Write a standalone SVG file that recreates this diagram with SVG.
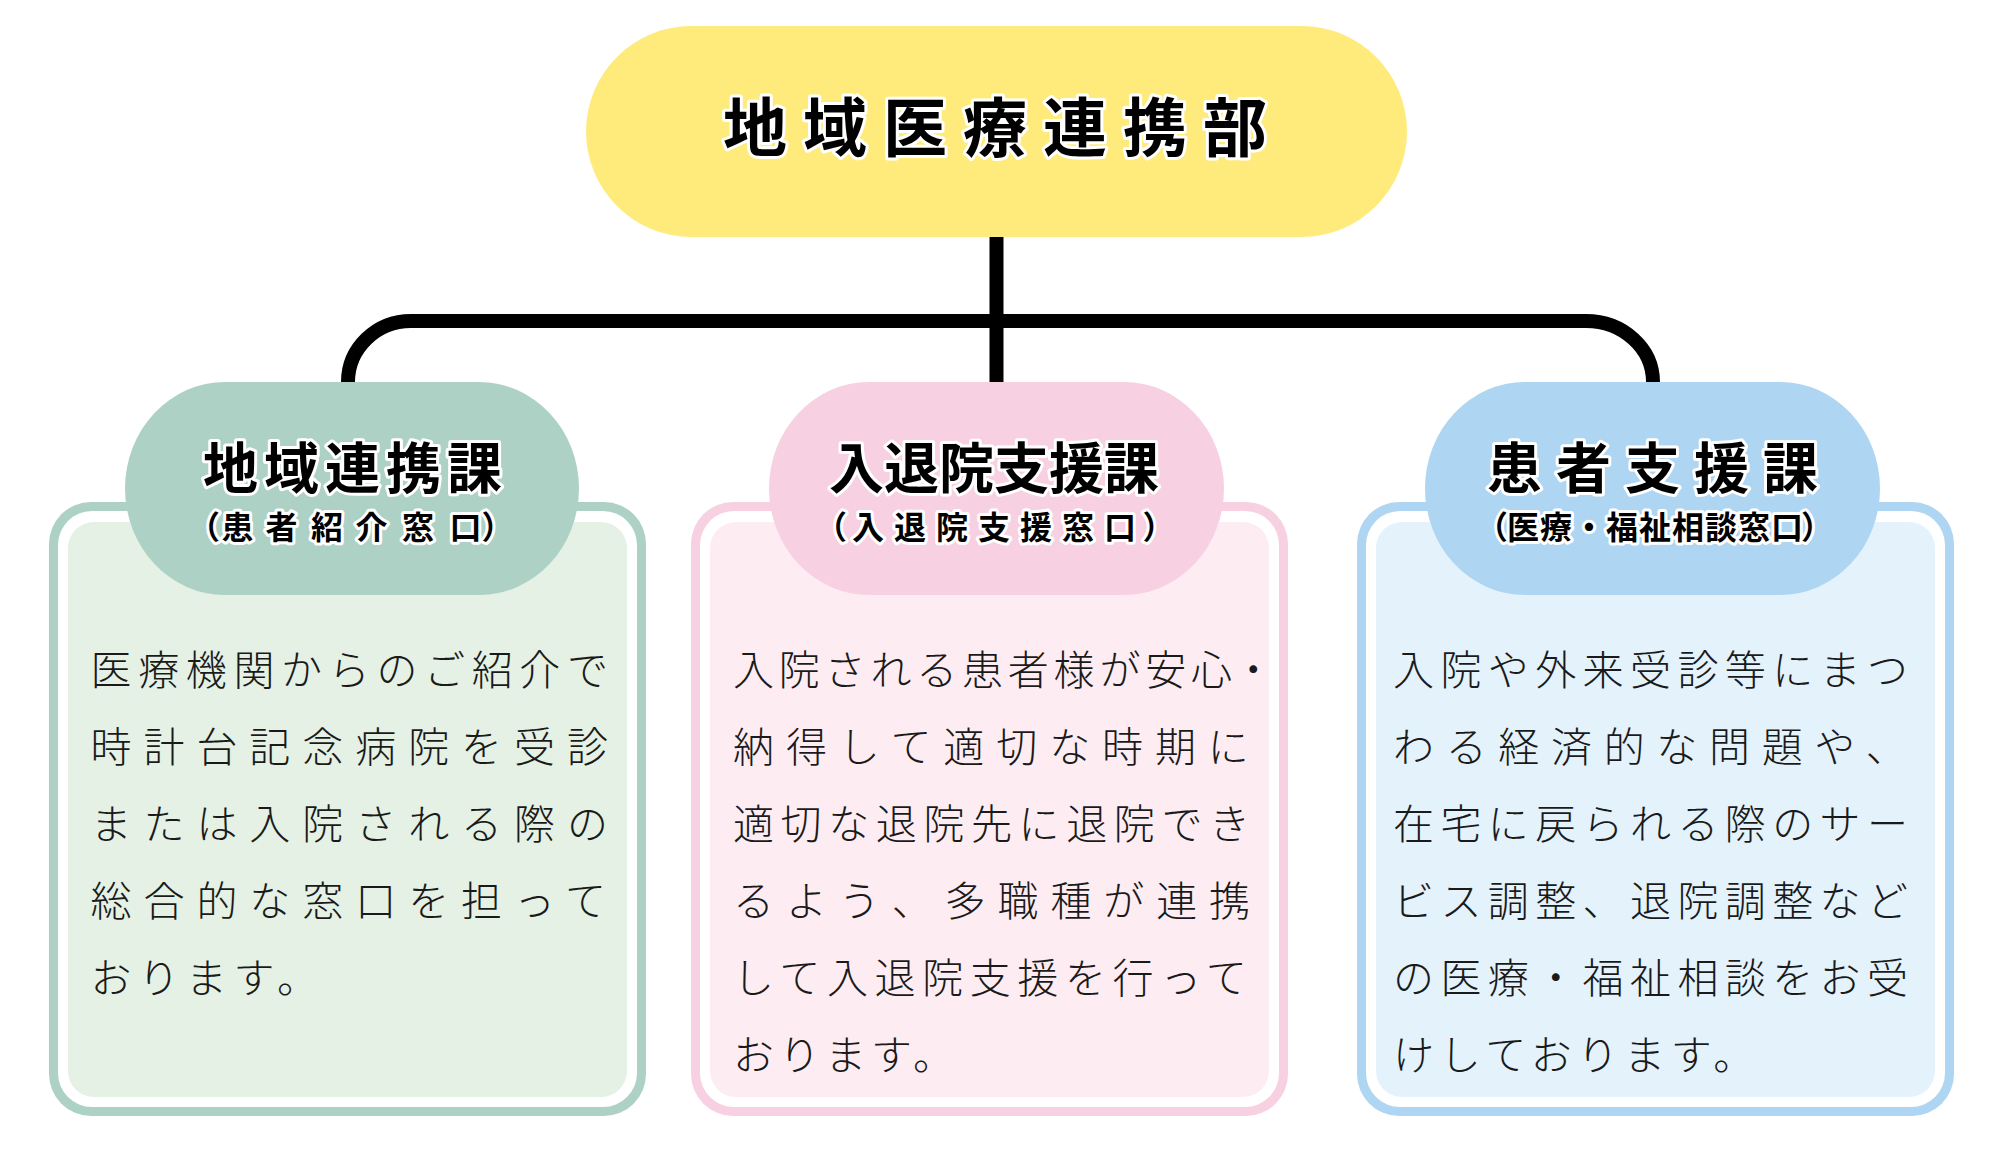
<svg xmlns="http://www.w3.org/2000/svg" width="2000" height="1170" viewBox="0 0 2000 1170">
<style>
.jp{font-family:"Noto Sans CJK JP","Noto Sans CJK SC",sans-serif}
.head{font-weight:700;fill:#000;stroke:#fff;stroke-width:6;stroke-linejoin:round;paint-order:stroke}
.top{font-size:64px;letter-spacing:16px}
.t2{font-size:55px}
.sub{font-size:32px}
.body{font-size:41px;fill:#1a1a1a;font-weight:300}
.wire{fill:none;stroke:#000;stroke-width:14}
</style>
<rect width="2000" height="1170" fill="#fff"/>
<g id="connectors">
<path class="wire" d="M996.5,237 V384"/>
<path class="wire" d="M348,384 V382 A63 61 0 0 1 411,321 H1586 A67 61 0 0 1 1653,382 V384"/>
</g>
<g id="dept">
<rect x="586" y="26" width="821" height="211" rx="105.5" fill="#FFEB7B"/>
<text class="jp head top" x="723" y="151">地域医療連携部</text>
</g>
<g id="chiiki">
<rect x="49" y="502" width="597" height="614" rx="42" fill="#AED1C5"/>
<rect x="58" y="511" width="579" height="596" rx="34" fill="#fff"/>
<rect x="68" y="522" width="559" height="575" rx="26" fill="#E4F1E4"/>
<rect x="125" y="382" width="454" height="213" rx="100" ry="106.5" fill="#AED1C5"/>
<text class="jp head t2" x="203" y="488" style="letter-spacing:6px">地域連携課</text>
<text class="jp head sub" x="188 221.5 265.5 311 355.5 402 449.5 481.5" y="539">（患者紹介窓口）</text>
<text class="jp body" x="90.5" y="685" style="letter-spacing:6.65px">医療機関からのご紹介で</text>
<text class="jp body" x="90.5" y="762" style="letter-spacing:11.94px">時計台記念病院を受診</text>
<text class="jp body" x="90.5" y="839" style="letter-spacing:11.94px">または入院される際の</text>
<text class="jp body" x="90.5" y="916" style="letter-spacing:11.94px">総合的な窓口を担って</text>
<text class="jp body" x="90.5" y="993" style="letter-spacing:6.65px">おります。</text>
</g>
<g id="nyutaiin">
<rect x="691" y="502" width="597" height="614" rx="42" fill="#F7D1E2"/>
<rect x="700" y="511" width="579" height="596" rx="34" fill="#fff"/>
<rect x="710" y="522" width="559" height="575" rx="26" fill="#FDEDF3"/>
<rect x="769" y="382" width="455" height="213" rx="100" ry="106.5" fill="#F7D1E2"/>
<text class="jp head t2" x="829" y="488">入退院支援課</text>
<text class="jp head sub" x="815 852 894 936 978 1020 1062 1104 1142.5" y="539">（入退院支援窓口）</text>
<text class="jp body" x="733" y="685" style="letter-spacing:4.8px">入院される患者様が安心<tspan dx="-4">・</tspan></text>
<text class="jp body" x="733" y="762" style="letter-spacing:11.9px">納得して適切な時期に</text>
<text class="jp body" x="733" y="839" style="letter-spacing:6.6px">適切な退院先に退院でき</text>
<text class="jp body" x="733" y="916" style="letter-spacing:11.9px">るよう、多職種が連携</text>
<text class="jp body" x="733" y="993" style="letter-spacing:6.6px">して入退院支援を行って</text>
<text class="jp body" x="733" y="1070" style="letter-spacing:5px">おります。</text>
</g>
<g id="kanja">
<rect x="1357" y="502" width="597" height="614" rx="42" fill="#AED5F1"/>
<rect x="1366" y="511" width="579" height="596" rx="34" fill="#fff"/>
<rect x="1376" y="522" width="559" height="575" rx="26" fill="#E4F2FC"/>
<rect x="1425" y="382" width="455" height="213" rx="100" ry="106.5" fill="#AED5F1"/>
<text class="jp head t2" x="1487" y="488" style="letter-spacing:14px">患者支援課</text>
<text class="jp head sub" x="1476 1507 1540 1573 1606 1639 1672 1705 1738 1771 1801" y="539">（医療・福祉相談窓口）</text>
<text class="jp body" x="1393" y="685" style="letter-spacing:6.4px">入院や外来受診等にまつ</text>
<text class="jp body" x="1393" y="762" style="letter-spacing:11.67px">わる経済的な問題や、</text>
<text class="jp body" x="1393" y="839" style="letter-spacing:6.4px">在宅に戻られる際のサー</text>
<text class="jp body" x="1393" y="916" style="letter-spacing:6.4px">ビス調整、退院調整など</text>
<text class="jp body" x="1393" y="993" style="letter-spacing:6.4px">の医療・福祉相談をお受</text>
<text class="jp body" x="1393" y="1070" style="letter-spacing:5.7px">けしております。</text>
</g>
</svg>
